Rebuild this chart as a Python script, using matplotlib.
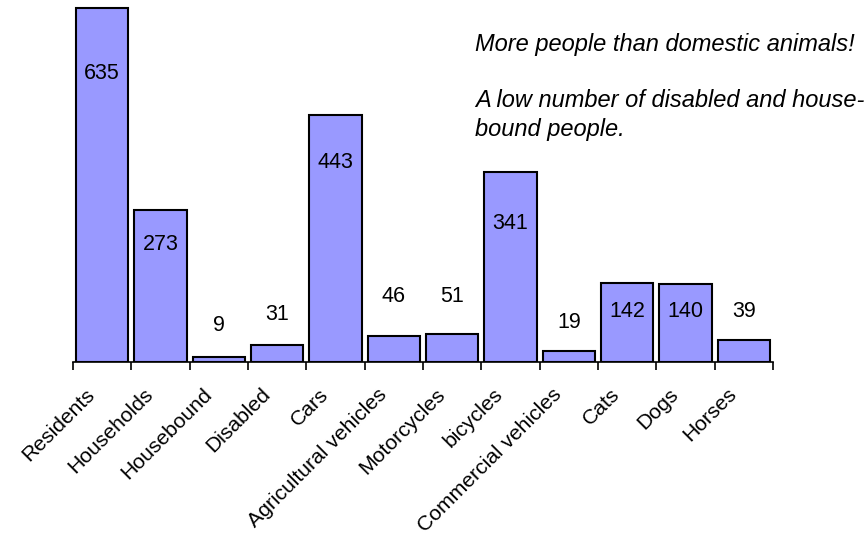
import matplotlib
matplotlib.use("Agg")
import matplotlib.pyplot as plt
from matplotlib.transforms import ScaledTranslation

categories = ["Residents", "Households", "Housebound", "Disabled", "Cars",
              "Agricultural vehicles", "Motorcycles", "bicycles",
              "Commercial vehicles", "Cats", "Dogs", "Horses"]
values = [635, 273, 9, 31, 443, 46, 51, 341, 19, 142, 140, 39]
# label centre heights (data units)
label_y = [518, 210, 65, 86, 357, 118, 118, 248, 70, 91, 91, 91]

plt.rcParams['font.family'] = ['Liberation Sans', 'DejaVu Sans']

fig = plt.figure(figsize=(8.66, 5.36), dpi=100)
ax = fig.add_axes([73/866, 1 - 362/536, 700/866, (362 - 5)/536])

x = list(range(len(categories)))
ax.bar(x, values, width=0.9, color="#9999FF", edgecolor="black", linewidth=1.5, zorder=2)
for xi, v, ly in zip(x, values, label_y):
    ax.text(xi, ly, str(v), ha="center", va="center", fontsize=15.5, color="black")

ax.set_xlim(-0.5, len(categories) - 0.5)
ax.set_ylim(0, 640)
for s in ["top", "right", "left"]:
    ax.spines[s].set_visible(False)
ax.spines["bottom"].set_linewidth(1.2)
ax.set_yticks([])
ax.set_xticks(x)
ax.set_xticklabels(categories, rotation=45, ha="right", va="top", rotation_mode="anchor", fontsize=15.2)
ax.tick_params(axis="x", which="major", length=0, pad=12)
ax.set_xticks([i - 0.5 for i in range(len(categories) + 1)], minor=True)
ax.tick_params(axis="x", which="minor", length=6, width=1.2, direction="out")

shift = ScaledTranslation(-0.17, -0.06, fig.dpi_scale_trans)
for lbl in ax.get_xticklabels():
    lbl.set_transform(lbl.get_transform() + shift)

fig.text(475/866, 1 - 45/536, "More people than domestic animals!", fontsize=17,
         style="italic", ha="left", va="center")
fig.text(475/866, 1 - 115/536, "A low number of disabled and house-\nbound people.",
         fontsize=17, style="italic", ha="left", va="center", linespacing=1.3)

fig.savefig("out.png", dpi=100)
